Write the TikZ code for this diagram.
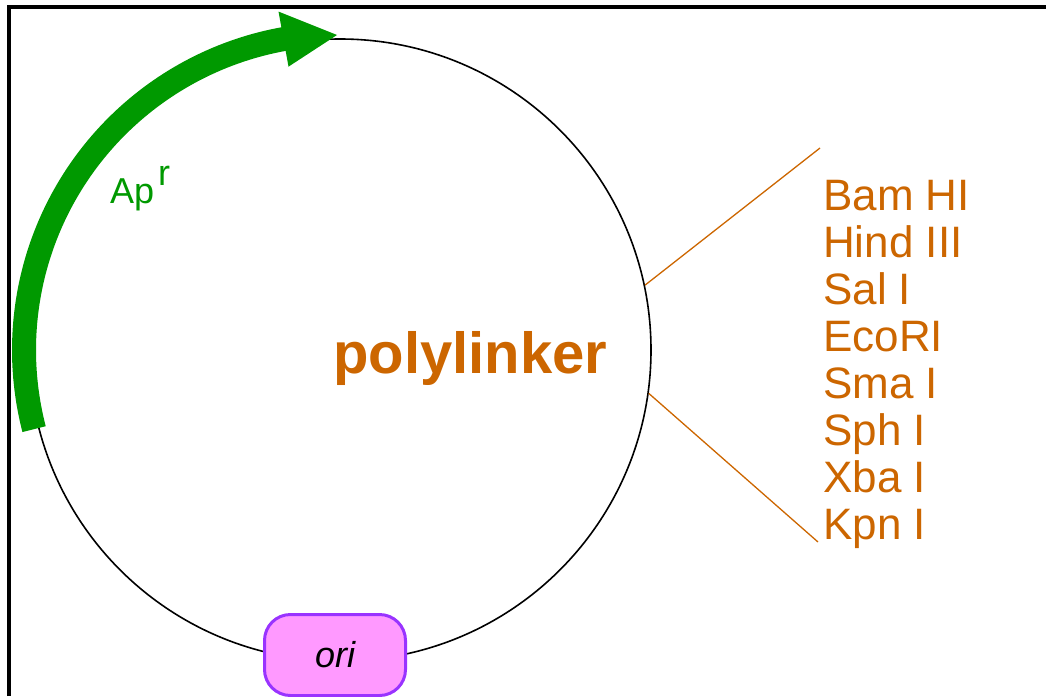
\documentclass[tikz,border=0pt]{standalone}
\usepackage{fontspec}
\setmainfont{Liberation Sans}
\usetikzlibrary{calc}
\definecolor{enz}{HTML}{CC6600}
\definecolor{apgreen}{HTML}{009900}
\definecolor{orifill}{HTML}{FF99FF}
\definecolor{oriedge}{HTML}{9933FF}
\begin{document}
\begin{tikzpicture}[x=1pt,y=1pt,
  enzyme/.style={anchor=base west, inner sep=0pt, text=enz, font=\fontsize{44}{47}\selectfont},
  link/.style={draw=enz, line width=1.3pt},
  plasmidring/.style={circle, draw=black, line width=1.6pt, minimum size=622pt, inner sep=0pt},
  oribox/.style={draw=oriedge, fill=orifill, line width=3pt, rounded corners=26pt, minimum width=141pt, minimum height=81pt, inner sep=0pt, font=\fontsize{36}{40}\selectfont\itshape},
  frameline/.style={line width=4pt, draw=black}]
\useasboundingbox (0,0) rectangle (1046,-696);
% frame (top and left)
\draw[frameline] (9,-696) -- (9,-7) -- (1046,-7);
% plasmid ring
\node[plasmidring] (plasmid) at (340,-350) {};
\coordinate (C) at (plasmid.center);
% Ap^r arrow
\draw[apgreen, line width=24pt] ($(C)+(194.5:316)$) arc[start angle=194.5, end angle=100, radius=316];
\fill[apgreen] ($(C)+(100.3:288)$) -- ($(C)+(100.3:344)$) -- (337,-35) -- cycle;
\node (apr) [anchor=base west, inner sep=0pt, text=apgreen, font=\fontsize{36}{40}\selectfont] at (110,-203) {Ap\hspace{4pt}\raisebox{18pt}{r}};
% ori
\node[oribox] (ori) at (335,-655) {ori};
% polylinker
\node (poly) [anchor=base west, inner sep=0pt, text=enz, font=\fontsize{58}{60}\selectfont\bfseries] at (333,-373) {polylinker};
\coordinate (pu) at (820,-148);
\coordinate (pl) at (818,-542);
\draw[link] (plasmid.12.5) -- (pu);
\draw[link] (plasmid.-8.2) -- (pl);
% enzymes
\foreach \t [count=\i] in {Bam HI, Hind III, Sal I, EcoRI, Sma I, Sph I, Xba I, Kpn I}
  \node[enzyme] (e\i) at (823,{-210-47.1*(\i-1)}) {\t};
\end{tikzpicture}
\end{document}
